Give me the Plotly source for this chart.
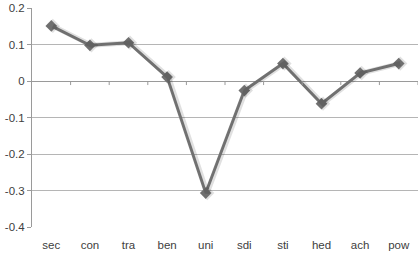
import plotly.graph_objects as go

categories = ["sec", "con", "tra", "ben", "uni", "sdi", "sti", "hed", "ach", "pow"]
values = [0.151, 0.098, 0.105, 0.011, -0.307, -0.026, 0.048, -0.062, 0.022, 0.048]
y_ticks = [0.2, 0.1, 0, -0.1, -0.2, -0.3, -0.4]
y_labels = ["0.2", "0.1", "0", "-0.1", "-0.2", "-0.3", "-0.4"]

fig = go.Figure()
# soft shadow
fig.add_trace(go.Scatter(
    x=categories, y=values, mode="lines+markers",
    line=dict(color="rgba(0,0,0,0.12)", width=5),
    marker=dict(symbol="diamond", size=11, color="rgba(0,0,0,0.12)"),
    xaxis="x2", hoverinfo="skip", showlegend=False,
))
fig.add_trace(go.Scatter(
    x=categories, y=values, mode="lines+markers",
    line=dict(color="#808080", width=3),
    marker=dict(symbol="diamond", size=9, color="#7f7f7f"),
    showlegend=False,
))

shapes = []
for i in range(1, len(categories) + 1):
    shapes.append(dict(type="line", xref="x", yref="y", x0=i - 0.5, x1=i - 0.5,
                       ysizemode="pixel", yanchor=0, y0=0, y1=-4,
                       line=dict(color="#9a9a9a", width=1)))

fig.update_layout(
    width=420, height=260,
    margin=dict(l=32, r=2, t=6, b=33),
    paper_bgcolor="white", plot_bgcolor="white",
    font=dict(family="Liberation Sans", size=11, color="#404040"),
    shapes=shapes,
    xaxis=dict(type="category", categoryorder="array", categoryarray=categories,
               range=[-0.5, 9.5], showgrid=False, showline=False, zeroline=False,
               ticks="", ticklabelstandoff=9, tickfont=dict(size=11.5)),
    xaxis2=dict(type="category", categoryorder="array", categoryarray=categories,
                range=[-0.5 - 0.04, 9.5 - 0.04], overlaying="x", visible=False),
    yaxis=dict(range=[-0.4, 0.2002], tickvals=y_ticks, ticktext=y_labels,
               showgrid=True, gridcolor="#b5b5b5", gridwidth=1,
               zeroline=True, zerolinecolor="#9a9a9a", zerolinewidth=1,
               showline=True, linecolor="#9a9a9a", linewidth=1,
               ticks="outside", ticklen=4, tickcolor="#9a9a9a",
               tickfont=dict(size=11.5)),
)
fig.write_html("out.html")
